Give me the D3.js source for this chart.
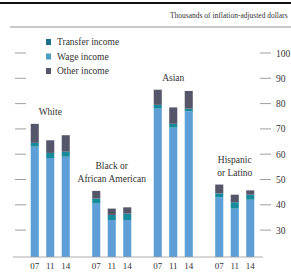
<!DOCTYPE html>
<html>
<head>
<meta charset="utf-8">
<script src="https://cdn.jsdelivr.net/npm/d3@7"></script>
<style>
  body { margin: 0; background: #fff; }
  svg { display: block; font-family: "Liberation Serif", "DejaVu Serif", serif; }
</style>
</head>
<body>
<script>
// chart data
const groups = ["White", "Black or African American", "Asian", "Hispanic or Latino"];
const groupLines = [["White"], ["Black or", "African American"], ["Asian"], ["Hispanic", "or Latino"]];
const years = ["07", "11", "14"];
const wage     = [[63, 58.5, 59], [40.5, 34, 34], [78, 70.5, 77], [43, 38.5, 42]];
const transfer = [[1.5, 2, 2], [2, 2, 2.5], [1.5, 1.5, 1], [1.5, 2.5, 2]];
const other    = [[7.5, 5, 6.5], [3, 2.5, 2.5], [6, 6.5, 7], [3.5, 3, 1.7]];
const yTicks = [30, 40, 50, 60, 70, 80, 90, 100];
const legendItems = ["Transfer income", "Wage income", "Other income"];

const width = 291, height = 273;
const colors = { wage: "#5f9fd8", transfer: "#178a9c", other: "#56566a" };
const legendColors = ["#1d6f8c", "#4c9fc2", "#56566a"];
const textColor = "#333";
const baseY = 257;

const svg = d3.select("body").append("svg").attr("width", width).attr("height", height);

const x0 = d3.scaleBand().domain(groups).range([19.5, 265.5]).paddingInner(0);
const x1 = d3.scaleBand().domain(years).range([0, x0.bandwidth()]).paddingInner(0.48).paddingOuter(0.724);
const y = d3.scaleLinear().domain([0, 100]).range([306, 53]);

// header rules and unit label
svg.append("line").attr("x1", 0).attr("x2", width).attr("y1", 3).attr("y2", 3)
    .attr("stroke", "#111").attr("stroke-width", 2);
svg.append("line").attr("x1", 10).attr("x2", width).attr("y1", 27).attr("y2", 27)
    .attr("stroke", "#777").attr("stroke-width", 0.8);
svg.append("text").attr("x", 170).attr("y", 18).attr("font-size", 7.5).attr("fill", textColor)
    .text("Thousands of inflation-adjusted dollars");

// tick marks both sides
const tickG = svg.append("g");
tickG.selectAll(".lt").data(yTicks).enter().append("line")
    .attr("x1", 15).attr("x2", 26).attr("y1", d => y(d)).attr("y2", d => y(d))
    .attr("stroke", "#888").attr("stroke-width", 0.8);
tickG.selectAll(".rt").data(yTicks).enter().append("line")
    .attr("x1", 260).attr("x2", 271).attr("y1", d => y(d)).attr("y2", d => y(d))
    .attr("stroke", "#888").attr("stroke-width", 0.8);
tickG.selectAll("text").data(yTicks).enter().append("text")
    .attr("x", 276).attr("y", d => y(d) + 3.5).attr("font-size", 9.5).attr("fill", textColor)
    .text(d => d);

// bars
svg.append("clipPath").attr("id", "plot").append("rect")
    .attr("x", 0).attr("y", 0).attr("width", width).attr("height", baseY);

const barData = [];
groups.forEach((g, gi) => {
    years.forEach((yr, yi) => {
        let acc = 0;
        [["wage", wage], ["transfer", transfer], ["other", other]].forEach(([k, arr]) => {
            const v = arr[gi][yi];
            barData.push({ g: g, yr: yr, key: k, y0: acc, y1: acc + v });
            acc += v;
        });
    });
});

svg.append("g").attr("clip-path", "url(#plot)")
    .selectAll("rect").data(barData).enter().append("rect")
    .attr("x", d => x0(d.g) + x1(d.yr))
    .attr("width", x1.bandwidth())
    .attr("y", d => y(d.y1))
    .attr("height", d => y(d.y0) - y(d.y1))
    .attr("fill", d => colors[d.key]);

// baseline
svg.append("line").attr("x1", 13).attr("x2", 263).attr("y1", baseY).attr("y2", baseY)
    .attr("stroke", "#999").attr("stroke-width", 0.8);

// year labels
groups.forEach(g => {
    svg.append("g").selectAll("text").data(years).enter().append("text")
        .attr("x", d => x0(g) + x1(d) + x1.bandwidth() / 2)
        .attr("y", 269).attr("text-anchor", "middle")
        .attr("font-size", 9).attr("fill", textColor)
        .text(d => d);
});

// group labels above tallest bar
groups.forEach((g, gi) => {
    const maxTop = d3.max(years, (yr, yi) => wage[gi][yi] + transfer[gi][yi] + other[gi][yi]);
    const lines = groupLines[gi];
    const t = svg.append("text").attr("text-anchor", "middle").attr("font-size", 9.5).attr("fill", textColor);
    lines.forEach((ln, li) => {
        t.append("tspan").attr("x", x0(g) + x0.bandwidth() / 2)
            .attr("y", y(maxTop) - 9 - (lines.length - 1 - li) * 13)
            .text(ln);
    });
});

// legend
const leg = svg.append("g").selectAll("g").data(legendItems).enter().append("g")
    .attr("transform", (d, i) => "translate(46," + (42 + i * 14.5) + ")");
leg.append("rect").attr("x", 0).attr("y", -3).attr("width", 5).attr("height", 6)
    .attr("fill", (d, i) => legendColors[i]);
leg.append("text").attr("x", 11).attr("y", 3).attr("font-size", 9.5).attr("fill", textColor)
    .text(d => d);
</script>
</body>
</html>
